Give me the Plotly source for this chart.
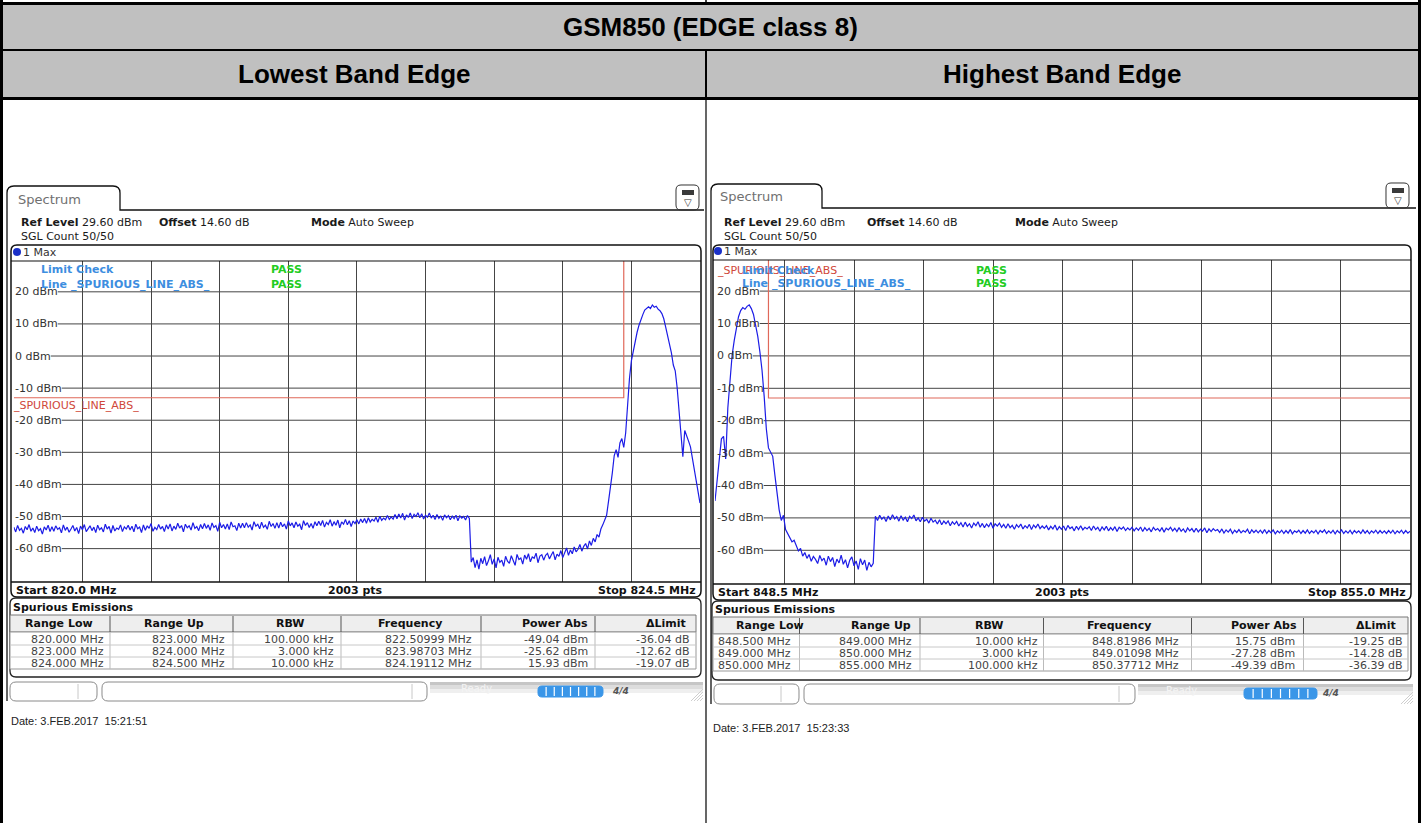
import plotly.graph_objects as go

# ------------------------------------------------------------------ data
TITLE = "GSM850 (EDGE class 8)"
PANEL_TITLES = ["Lowest Band Edge", "Highest Band Edge"]
LEVEL_TICKS_DBM = [20, 10, 0, -10, -20, -30, -40, -50, -60]
REF_LEVEL_DBM = 29.60
BOTTOM_LEVEL_DBM = -70.40
SWEEP_POINTS = "2003 pts"
TABLE_HEADERS = ["Range Low", "Range Up", "RBW", "Frequency", "Power Abs", "\u0394Limit"]

LEFT_START_MHZ = 820.0
LEFT_STOP_MHZ = 824.5
LEFT_STEP_MHZ = 0.0125
LEFT_TRACE_A = [
    -53.3, -54.8, -52.8, -54.3, -53.7, -55.2, -53.1, -54.1, -52.5, -54.6, -53.6, -55.0, -53.0, -54.4, -53.8, -55.5, -53.2, -54.2, -52.7, -54.7,
    -53.2, -54.6, -52.9, -54.0, -53.5, -55.1, -52.6, -54.3, -53.3, -54.9, -53.9, -52.8, -54.5, -53.4, -55.3, -53.0, -54.1, -52.5, -54.7, -53.6,
    -52.9, -54.4, -53.3, -55.0, -52.7, -54.1, -53.5, -54.8, -52.4, -53.9, -53.1, -55.2, -52.8, -54.5, -53.6, -54.0, -52.6, -54.7, -53.2, -53.9,
    -52.7, -54.2, -53.0, -54.8, -52.4, -53.8, -53.3, -55.0, -52.6, -54.3, -52.9, -53.7, -52.2, -54.6, -53.4, -54.1, -52.5, -53.9, -53.1, -54.7,
    -52.6, -53.9, -52.3, -54.5, -53.0, -54.0, -52.1, -53.6, -52.8, -54.8, -52.4, -53.5, -52.9, -54.2, -51.9, -53.7, -53.1, -54.4, -52.5, -53.8,
    -52.2, -53.7, -52.6, -54.3, -52.0, -53.4, -52.8, -54.6, -51.8, -53.5, -52.5, -53.9, -52.3, -54.1, -51.7, -53.2, -52.9, -54.4, -52.1, -53.6,
    -52.1, -53.5, -51.9, -53.3, -52.6, -54.2, -51.6, -53.0, -52.4, -53.8, -51.8, -53.4, -52.7, -54.0, -51.5, -53.1, -52.2, -53.7, -51.9, -53.6,
    -51.8, -53.2, -52.3, -53.9, -51.4, -52.9, -52.0, -53.5, -51.7, -53.0, -52.4, -54.1, -51.3, -52.8, -51.9, -53.4, -52.2, -53.7, -51.6, -52.9,
    -51.5, -52.8, -51.2, -53.3, -51.8, -52.5, -51.0, -53.0, -51.6, -52.7, -51.1, -53.5, -51.7, -52.4, -50.9, -52.6, -51.3, -53.1, -51.4, -52.2,
    -51.0, -52.3, -50.8, -51.9, -50.6, -52.1, -50.4, -51.7, -50.9, -51.4, -50.2, -51.8, -49.9, -51.2, -50.5, -51.0, -49.7, -50.9, -50.1, -50.8,
    -49.4, -50.7, -49.2, -50.5, -49.0, -51.1, -49.5, -50.3, -48.9, -50.6, -49.3, -50.0, -48.8, -50.4, -49.1, -50.8, -49.6, -50.2, -48.9, -50.5,
    -49.6, -50.9, -49.4, -50.6, -49.8, -51.2, -49.5, -50.4, -49.7, -51.0, -49.9, -50.7, -49.6, -51.3, -49.8, -50.5, -50.0, -51.1, -49.7, -50.6,
]
LEFT_TRACE_B = [
    -64.2, -62.8, -65.9, -63.5, -66.4, -63.0, -64.7, -62.5, -65.3, -63.8, -61.9, -64.9, -63.2, -66.0, -62.7, -64.3, -63.6, -65.5, -62.4, -63.9,
    -64.6, -62.2, -63.7, -65.2, -61.8, -63.4, -62.9, -64.8, -62.0, -63.3, -61.6, -64.1, -62.6, -63.0, -61.4, -64.4, -62.3, -61.9, -63.6, -62.1,
    -61.5, -63.2, -62.0, -60.9, -63.5, -61.7, -62.4, -60.6, -62.8, -61.2, -59.8, -62.1, -60.4, -61.6, -59.5, -61.0, -60.2, -58.7, -60.8, -59.3,
    -58.4, -60.1, -57.6, -59.0, -56.8, -57.9, -55.6, -56.4, -53.9, -52.6, -51.2, -49.6, -45.3, -41.2, -36.4, -31.0, -29.2, -31.6, -27.1, -25.7,
]
LEFT_TRACE_C = [
    -28.5, -24.0, -14.8, -7.0, -1.5, 1.8, 5.0, 7.4, 9.6, 11.5, 12.9, 14.3, 14.9, 15.3, 14.8, 15.9, 15.2, 15.5, 14.6, 14.1,
    13.2, 11.6, 9.0, 6.3, 3.7, 1.0, -2.8, -4.6, -9.8, -17.5, -26.0, -31.4, -23.2, -24.6, -26.5, -28.3, -32.0, -35.4, -38.7, -42.0,
    -45.8,
]
LEFT_TRACE_DBM = LEFT_TRACE_A + LEFT_TRACE_B + LEFT_TRACE_C
LEFT_LIMIT_MHZ = [820.0, 824.0, 824.0, 824.5]
LEFT_LIMIT_DBM = [-13.0, -13.0, 35.0, 35.0]
LEFT_ROWS = [
    ["820.000 MHz", "823.000 MHz", "100.000 kHz", "822.50999 MHz", "-49.04 dBm", "-36.04 dB"],
    ["823.000 MHz", "824.000 MHz", "3.000 kHz", "823.98703 MHz", "-25.62 dBm", "-12.62 dB"],
    ["824.000 MHz", "824.500 MHz", "10.000 kHz", "824.19112 MHz", "15.93 dBm", "-19.07 dB"],
]
LEFT_DATE = "Date: 3.FEB.2017\u00a0\u00a015:21:51"

RIGHT_START_MHZ = 848.5
RIGHT_STOP_MHZ = 855.0
RIGHT_STEP_MHZ = 0.02
RIGHT_TRACE_A = [
    -44.8, -38.0, -30.5, -25.6, -24.8, -31.8, -16.0, -6.8, 0.2, 4.8, 9.2, 12.1, 14.0, 14.9, 14.4, 15.3, 15.75, 14.6, 12.8, 9.9,
    6.0, 1.2, -4.5, -12.5, -22.5,
]
RIGHT_TRACE_B = [
    -28.4, -29.5, -31.0, -36.8, -43.2, -47.5, -50.8, -49.2, -53.6, -54.8, -56.1, -57.4, -56.9, -58.8, -60.2, -59.4, -61.8, -60.7, -62.5, -61.3,
    -63.4, -61.9, -62.8, -64.1, -61.6, -63.2, -62.4, -64.6, -61.8, -63.5, -62.2, -65.0, -62.7, -63.9, -61.5, -64.3, -62.9, -65.4, -63.1, -62.0,
    -64.8, -63.3, -65.9, -62.6, -64.5, -63.0, -66.2, -63.7, -65.1, -64.0,
]
RIGHT_TRACE_C = [
    -49.5, -50.8, -49.2, -50.4, -49.7, -51.1, -49.4, -50.6, -49.0, -50.3, -49.6, -51.0, -49.3, -50.7, -49.8, -51.2, -49.5, -50.2, -49.1, -50.9,
    -50.0, -51.2, -49.8, -51.0, -50.4, -51.6, -50.1, -51.3, -50.7, -51.9, -50.6, -52.1, -51.0, -51.8, -50.9, -52.4, -51.2, -52.0, -51.1, -52.5,
    -51.5, -52.8, -51.3, -52.6, -51.8, -53.1, -51.6, -52.4, -51.2, -52.9, -51.7, -53.0, -51.9, -52.7, -51.4, -53.2, -51.8, -52.5, -51.6, -52.9,
    -52.0, -53.2, -51.8, -53.0, -52.3, -53.5, -52.1, -52.9, -51.9, -53.4, -52.4, -53.1, -52.0, -53.6, -52.2, -53.0, -51.9, -53.3, -52.5, -53.2,
    -52.4, -53.7, -52.6, -53.4, -52.2, -53.8, -52.7, -53.5, -52.5, -53.9, -52.3, -53.3, -52.8, -54.0, -52.6, -53.6, -52.4, -53.7, -52.9, -53.4,
    -52.7, -53.9, -52.5, -53.6, -52.9, -54.1, -52.8, -53.7, -52.6, -54.0, -53.0, -53.8, -52.7, -54.2, -52.9, -53.5, -52.8, -53.9, -53.1, -53.7,
    -52.9, -54.0, -53.1, -53.8, -52.8, -54.2, -53.0, -53.9, -53.2, -54.3, -52.9, -53.8, -53.3, -54.1, -53.0, -54.4, -53.2, -53.7, -52.9, -54.0,
    -53.2, -54.2, -53.0, -54.1, -53.4, -54.5, -53.1, -54.0, -53.3, -54.4, -53.2, -54.3, -53.5, -54.1, -53.1, -54.6, -53.4, -54.2, -53.3, -54.0,
    -53.6, -54.5, -53.4, -54.7, -53.7, -54.4, -53.5, -54.8, -53.8, -54.5, -53.6, -54.6, -53.9, -54.4, -53.5, -54.9, -53.7, -54.5, -53.8, -54.6,
    -53.8, -54.7, -53.6, -54.8, -53.9, -54.6, -53.7, -54.9, -54.0, -54.6, -53.8, -54.8, -53.9, -54.7, -53.6, -54.9, -54.0, -54.5, -53.8, -54.8,
    -53.9, -54.7, -53.7, -54.8, -54.0, -54.6, -53.8, -54.9, -53.9, -54.5, -53.7, -54.8, -54.0, -54.7, -53.8, -54.9, -53.9, -54.6, -53.7, -54.8,
    -54.0, -54.7, -53.8, -54.9, -53.9, -54.6, -54.0, -54.8, -53.7, -54.7, -53.9, -54.9, -54.0, -54.6, -53.8, -54.8, -53.9, -54.7, -54.0, -54.8,
    -53.9, -54.7, -53.8, -54.9, -54.0, -54.6, -53.8, -54.8, -53.9, -54.7, -54.1,
]
RIGHT_TRACE_DBM = RIGHT_TRACE_A + RIGHT_TRACE_B + RIGHT_TRACE_C
RIGHT_LIMIT_MHZ = [848.5, 849.0, 849.0, 855.0]
RIGHT_LIMIT_DBM = [35.0, 35.0, -13.0, -13.0]
RIGHT_ROWS = [
    ["848.500 MHz", "849.000 MHz", "10.000 kHz", "848.81986 MHz", "15.75 dBm", "-19.25 dB"],
    ["849.000 MHz", "850.000 MHz", "3.000 kHz", "849.01098 MHz", "-27.28 dBm", "-14.28 dB"],
    ["850.000 MHz", "855.000 MHz", "100.000 kHz", "850.37712 MHz", "-49.39 dBm", "-36.39 dB"],
]
RIGHT_DATE = "Date: 3.FEB.2017\u00a0\u00a015:23:33"

# ------------------------------------------------------------------ helpers
W, H = 1421, 823
SCR = "DejaVu Sans"
DOC = "Liberation Sans"
shapes, annos = [], []


def X(p):
    return p / W


def Y(p):
    return 1 - p / H


def rect(x0, y0, x1, y1, fill=None, line=None, lw=1, layer="above"):
    shapes.append(dict(type="rect", xref="paper", yref="paper",
                       x0=X(x0), x1=X(x1), y0=Y(y1), y1=Y(y0),
                       fillcolor=fill or "rgba(0,0,0,0)",
                       line=dict(color=line or "rgba(0,0,0,0)", width=lw if line else 0),
                       layer=layer))


def seg(x0, y0, x1, y1, color="#000", lw=1, layer="above"):
    shapes.append(dict(type="line", xref="paper", yref="paper",
                       x0=X(x0), x1=X(x1), y0=Y(y0), y1=Y(y1),
                       line=dict(color=color, width=lw), layer=layer))


def path(d, color="#000", lw=1, fill=None, layer="above"):
    shapes.append(dict(type="path", xref="paper", yref="paper", path=d,
                       fillcolor=fill or "rgba(0,0,0,0)",
                       line=dict(color=color, width=lw), layer=layer))


def P(x, y):
    return f"{X(x):.6f},{Y(y):.6f}"


def rrect(x0, y0, x1, y1, r, color="#000", lw=1, fill=None):
    d = (f"M {P(x0 + r, y0)} L {P(x1 - r, y0)} Q {P(x1, y0)} {P(x1, y0 + r)} "
         f"L {P(x1, y1 - r)} Q {P(x1, y1)} {P(x1 - r, y1)} L {P(x0 + r, y1)} "
         f"Q {P(x0, y1)} {P(x0, y1 - r)} L {P(x0, y0 + r)} Q {P(x0, y0)} {P(x0 + r, y0)} Z")
    path(d, color, lw, fill)


def text(x, y, s, size=11, color="#1a1a1a", family=SCR, xanchor="left", **kw):
    annos.append(dict(x=X(x), y=Y(y), xref="paper", yref="paper", text=s,
                      showarrow=False, xanchor=xanchor, yanchor="middle",
                      font=dict(size=size, color=color, family=family),
                      borderpad=0, **kw))


CW = {c: .636 for c in "0123456789"}
CW.update({'-': .361, ' ': .318, 'd': .635, 'B': .686, 'm': .974})


def tw(s, size):
    return sum(CW.get(c, .6) for c in s) * size


# ------------------------------------------------------------------ document table
rect(0, 0, W, H, fill="white", layer="below")
rect(3, 5, 1418, 49, fill="#c0c0c0", layer="below")
rect(3, 51, 1418, 97, fill="#c0c0c0", layer="below")
seg(0, 3.5, W, 3.5, lw=3)
seg(0, 50, W, 50, lw=2)
seg(0, 98.5, W, 98.5, lw=3)
seg(1.5, 0, 1.5, H, lw=3)
seg(1419.5, 0, 1419.5, H, lw=3)
seg(706, 0, 706, 4, lw=1.5)
seg(706, 50, 706, 98, lw=2)
seg(706, 98, 706, H, lw=1.2)
text(710.5, 27, f"<b>{TITLE}</b>", size=26, color="#000", family=DOC, xanchor="center")
text(354, 74, f"<b>{PANEL_TITLES[0]}</b>", size=26, color="#000", family=DOC, xanchor="center")
text(1062, 74, f"<b>{PANEL_TITLES[1]}</b>", size=26, color="#000", family=DOC, xanchor="center")

# ------------------------------------------------------------------ panel geometry (pixels)
GL = dict(edge=7, fl=11, fr=701, tab_r=120, tab_t=186, tab_b=210, top_r=704, spec_x=17, spec_y=199,
          ref_x=[20, 158, 310], ref_y=223, sgl_y=237, frame_t=245, max_y=252, dot_x=17,
          plot_l=13.8, plot_r=700, grid_t=261, grid_b=582, lab_x=14, bot_y=590, frame_b=597,
          sp_t=598, sp_title_y=607, th_t=615, th_b=632, row_y=[639, 651, 663], sp_b=677,
          cols=[10, 110, 233, 341, 481, 595, 696], hdr_x=[59, 174, 290, 410, 555, 666],
          val_r=[105, 226, 335, 473, 589, 691], check_x=40, check_y=[269, 284], pass_x=270,
          red_lab=(12, 406), st_t=682, st_b=701, box1=(10, 97, 78), box2=(102, 427, 412),
          ready_x=460, bar=(538, 603), icon4=611, date_x=10, date_y=721, icon_x=(676, 699))
GR = dict(edge=711, fl=713, fr=1411, tab_r=822, tab_t=184, tab_b=208, top_r=1416, spec_x=719, spec_y=197,
          ref_x=[723, 866, 1014], ref_y=222, sgl_y=237, frame_t=245, max_y=251, dot_x=718,
          plot_l=715, plot_r=1410, grid_t=260, grid_b=584, lab_x=716, bot_y=592, frame_b=600,
          sp_t=601, sp_title_y=609, th_t=617, th_b=634, row_y=[641, 653, 665], sp_b=680,
          cols=[713, 799.5, 920, 1043.5, 1191.5, 1303.5, 1408], hdr_x=[770, 881, 989, 1119, 1264, 1376],
          val_r=[792, 913, 1039, 1180, 1296, 1404], check_x=741, check_y=[270, 283], pass_x=975,
          red_lab=(716, 270), st_t=684, st_b=704, box1=(714, 799, 781), box2=(804, 1135, 1119),
          ready_x=1165, bar=(1244, 1317), icon4=1321, date_x=712, date_y=728, icon_x=(1386, 1409))

TRACE_BLUE = "#1c1ce6"
LIMIT_RED = "#e0685a"
GRID = "#454545"

fig = go.Figure()
layout_axes = {}


def panel(idx, g, start, stop, step, trace, lim_f, lim_v, rows, date):
    xa = "x" if idx == 1 else f"x{idx}"
    ya = "y" if idx == 1 else f"y{idx}"
    fig.add_trace(go.Scatter(x=lim_f, y=lim_v, mode="lines", line=dict(color=LIMIT_RED, width=1.2),
                             xaxis=xa, yaxis=ya, hoverinfo="skip"))
    fig.add_trace(go.Scatter(x0=start, dx=step, y=trace, mode="lines",
                             line=dict(color=TRACE_BLUE, width=1.2), xaxis=xa, yaxis=ya, hoverinfo="skip"))
    kx = "xaxis" if idx == 1 else f"xaxis{idx}"
    ky = "yaxis" if idx == 1 else f"yaxis{idx}"
    layout_axes[kx] = dict(domain=[X(g["plot_l"]), X(g["plot_r"])], range=[start, stop],
                           showgrid=True, gridcolor=GRID, gridwidth=1, tick0=start, dtick=(stop - start) / 10,
                           showticklabels=False, zeroline=False, showline=False, ticks="",
                           anchor=ya, fixedrange=True)
    layout_axes[ky] = dict(domain=[Y(g["grid_b"]), Y(g["grid_t"])], range=[BOTTOM_LEVEL_DBM, REF_LEVEL_DBM],
                           showgrid=False, showticklabels=False, zeroline=False, showline=False, ticks="",
                           anchor=xa, fixedrange=True)

    fl, fr = g["fl"], g["fr"]
    # tab + outer screenshot edge
    r = 7
    d = (f"M {P(g['edge'], g['st_b'])} L {P(g['edge'], g['tab_t'] + r)} Q {P(g['edge'], g['tab_t'])} "
         f"{P(g['edge'] + r, g['tab_t'])} L {P(g['tab_r'] - r, g['tab_t'])} Q {P(g['tab_r'], g['tab_t'])} "
         f"{P(g['tab_r'], g['tab_t'] + r)} L {P(g['tab_r'], g['tab_b'])} L {P(g['top_r'], g['tab_b'])}")
    path(d, "#111", 1.3)
    text(g["spec_x"], g["spec_y"], "Spectrum", size=13, color="#707070")
    # icon
    ix0, ix1 = g["icon_x"]
    rrect(ix0, g["tab_t"] - 1, ix1, g["tab_t"] + 24, 5, "#333", 1)
    rect(ix0 + 6, g["tab_t"] + 4, ix1 - 5, g["tab_t"] + 9, fill="#3a3a3a")
    text((ix0 + ix1) / 2, g["tab_t"] + 16, "\u25bd", size=10, color="#333", xanchor="center")
    # header info
    text(g["ref_x"][0], g["ref_y"], "<b>Ref Level</b> 29.60 dBm", size=11)
    text(g["ref_x"][1], g["ref_y"], "<b>Offset</b> 14.60 dB", size=11)
    text(g["ref_x"][2], g["ref_y"], "<b>Mode</b> Auto Sweep", size=11)
    text(g["ref_x"][0], g["sgl_y"], "SGL Count 50/50", size=11)
    # diagram frame
    rrect(fl, g["frame_t"], fr, g["frame_b"], 6, "#111", 1.5)
    seg(fl, g["grid_t"], fr, g["grid_t"], "#111", 1.2)
    seg(fl, g["grid_b"], fr, g["grid_b"], "#111", 1.5)
    shapes.append(dict(type="circle", xref="paper", yref="paper",
                       x0=X(g["dot_x"] - 4), x1=X(g["dot_x"] + 4), y0=Y(g["max_y"] + 4), y1=Y(g["max_y"] - 4),
                       fillcolor="#1a30c8", line=dict(width=0)))
    text(g["dot_x"] + 5, g["max_y"], "1 Max", size=11, color="#333")
    # level grid lines + labels
    for v in LEVEL_TICKS_DBM:
        lab = f"{v} dBm"
        xs = g["lab_x"] + tw(lab, 11) + 1
        shapes.append(dict(type="line", xref="paper", yref=ya, x0=X(xs), x1=X(g["plot_r"]), y0=v, y1=v,
                           line=dict(color=GRID, width=1), layer="below"))
        annos.append(dict(x=X(g["lab_x"]), y=v, xref="paper", yref=ya, text=lab, showarrow=False,
                          xanchor="left", yanchor="middle", borderpad=0,
                          font=dict(size=11, color="#333", family=SCR)))
    # limit check texts
    text(g["red_lab"][0], g["red_lab"][1], "_SPURIOUS_LINE_ABS_", size=11, color="#d0483a")
    text(g["check_x"], g["check_y"][0], "<b>Limit Check</b>", size=11, color="#3d8ee0")
    text(g["check_x"], g["check_y"][1], "<b>Line _SPURIOUS_LINE_ABS_</b>", size=11, color="#3d8ee0")
    text(g["pass_x"], g["check_y"][0], "<b>PASS</b>", size=11, color="#22cc22")
    text(g["pass_x"], g["check_y"][1], "<b>PASS</b>", size=11, color="#22cc22")
    # bottom bar
    text(fl + 4, g["bot_y"], f"<b>Start {start:.1f} MHz</b>", size=11, color="#111")
    text((fl + fr) / 2, g["bot_y"], f"<b>{SWEEP_POINTS}</b>", size=11, color="#111", xanchor="center")
    text(fr - 4, g["bot_y"], f"<b>Stop {stop:.1f} MHz</b>", size=11, color="#111", xanchor="right")
    # spurious emissions table
    rrect(fl - 1, g["sp_t"], fr, g["sp_b"], 6, "#222", 1.3)
    text(fl + 1, g["sp_title_y"], "<b>Spurious Emissions</b>", size=11, color="#111")
    cols = g["cols"]
    row_top = g["th_b"]
    row_bot = g["row_y"][-1] + 6
    rect(cols[0], g["th_t"], cols[-1], g["th_b"], fill="#eeeeee", line="#777", lw=1)
    rect(cols[0], row_top, cols[-1], row_bot, fill="white", line="#999", lw=1)
    for c in cols[1:-1]:
        seg(c, g["th_t"] + 1, c, g["th_b"], "#555", 1)
        seg(c, row_top, c, row_bot, "#bbbbbb", 1)
    for ry in g["row_y"][:-1]:
        seg(cols[0], ry + 6, cols[-1], ry + 6, "#c8c8c8", 1)
    for hx, h in zip(g["hdr_x"], TABLE_HEADERS):
        text(hx, (g["th_t"] + g["th_b"]) / 2, f"<b>{h}</b>", size=11, color="#111", xanchor="center")
    for ry, row in zip(g["row_y"], rows):
        for vx, val in zip(g["val_r"], row):
            text(vx, ry, val, size=11, color="#444", xanchor="right")
    # status bar
    sx = g["box2"][1] + 3
    rect(sx, g["st_t"], fr + 2, g["st_t"] + 3, fill="#c6c6c6")
    rect(sx, g["st_t"] + 3, fr + 2, g["st_t"] + 7, fill="#dddddd")
    rect(sx, g["st_t"] + 7, fr + 2, g["st_t"] + 11, fill="#efefef")
    text(g["ready_x"], g["st_t"] + 6, "Ready", size=10, color="#f4f4f4")
    b0, b1, bd = g["box1"]
    rrect(b0, g["st_t"], b1, g["st_b"], 6, "#8a8a8a", 1, "white")
    seg(bd, g["st_t"] + 2, bd, g["st_b"] - 2, "#c8c8c8", 1)
    b0, b1, bd = g["box2"]
    rrect(b0, g["st_t"], b1, g["st_b"], 6, "#8a8a8a", 1, "white")
    seg(bd, g["st_t"] + 2, bd, g["st_b"] - 2, "#c8c8c8", 1)
    q0, q1 = g["bar"]
    rrect(q0, g["st_t"] + 4, q1, g["st_t"] + 15, 4, "#3a96e8", 1, "#3a96e8")
    n = 8
    for k in range(1, n):
        xx = q0 + (q1 - q0) * k / n
        seg(xx, g["st_t"] + 5, xx, g["st_t"] + 14, "white", 1.2)
    text(g["icon4"], g["st_t"] + 9, "<b><i>4/4</i></b>", size=9, color="#555")
    for k in range(4):
        seg(fr - 10 + 3 * k, g["st_b"], fr + 2, g["st_b"] - 12 + 3 * k, "#cfcfcf", 1)
    # date
    text(g["date_x"], g["date_y"], date, size=11, color="#222", family=DOC)


panel(1, GL, LEFT_START_MHZ, LEFT_STOP_MHZ, LEFT_STEP_MHZ, LEFT_TRACE_DBM,
      LEFT_LIMIT_MHZ, LEFT_LIMIT_DBM, LEFT_ROWS, LEFT_DATE)
panel(2, GR, RIGHT_START_MHZ, RIGHT_STOP_MHZ, RIGHT_STEP_MHZ, RIGHT_TRACE_DBM,
      RIGHT_LIMIT_MHZ, RIGHT_LIMIT_DBM, RIGHT_ROWS, RIGHT_DATE)

fig.update_layout(width=W, height=H, margin=dict(l=0, r=0, t=0, b=0, pad=0),
                  paper_bgcolor="white", plot_bgcolor="rgba(0,0,0,0)", showlegend=False,
                  shapes=shapes, annotations=annos, hovermode=False, **layout_axes)

fig.write_html("out.html", config=dict(displayModeBar=False, staticPlot=True),
               post_script="document.body.style.margin='0px';document.body.style.overflow='hidden';")
